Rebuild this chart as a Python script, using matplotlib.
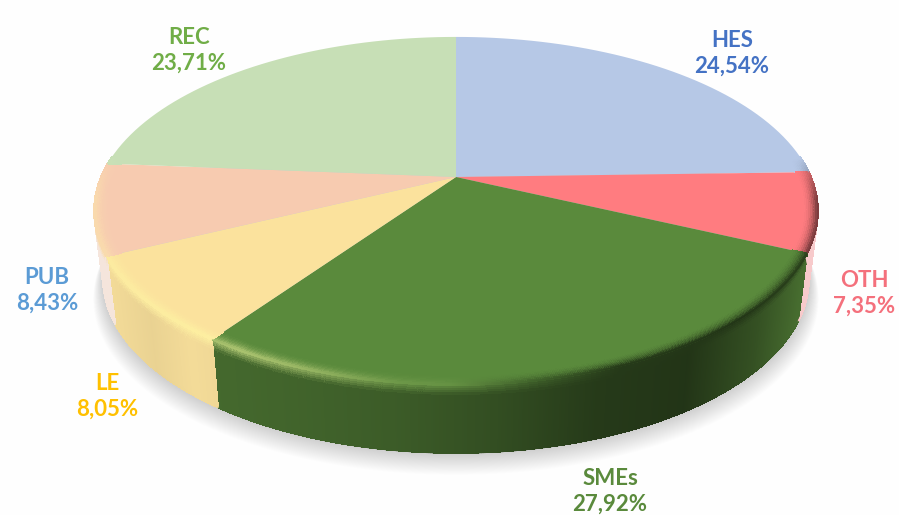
import numpy as np
import matplotlib
matplotlib.use("Agg")
import matplotlib.pyplot as plt
from matplotlib.collections import PolyCollection, LineCollection
from matplotlib.path import Path
from matplotlib.transforms import Transform

categories = ["HES", "OTH", "SMEs", "LE", "PUB", "REC"]
shares = [24.54, 7.35, 27.92, 8.05, 8.43, 23.71]
share_labels = ["24,54%", "7,35%", "27,92%", "8,05%", "8,43%", "23,71%"]
top_colors = ["#B6C8E6", "#FF7C80", "#5A8A3C", "#FBE29D", "#F7CBB0", "#C7DFB6"]
text_colors = ["#4472C4", "#F4707C", "#5A8A3C", "#FFC000", "#5B9BD5", "#70AD47"]
label_xy = [(732, 53), (864, 293), (610, 491), (107, 396), (47, 290), (189, 50)]

CX, CY, A, B, K = 456.0, 177.0, 355.0, 167.4, 0.195
DEPTH, NARROW = 68.0, 0.975


def project(u, v):
    w = 1 + K * v
    return CX + A * u / w, CY - B * v / w


class Perspective(Transform):
    input_dims = output_dims = 2
    is_affine = False

    def transform_non_affine(self, values):
        values = np.asarray(values)
        x, y = project(values[:, 0], values[:, 1])
        return np.column_stack([x, y])

    def transform_path_non_affine(self, path):
        pts = []
        for curve, code in path.iter_bezier():
            if code == Path.LINETO or code == Path.CLOSEPOLY or code == Path.MOVETO:
                pts.append(curve.control_points[-1:])
            else:
                pts.append(curve(np.linspace(0, 1, 25)))
        return Path(self.transform_non_affine(np.vstack(pts)), closed=False)


def rgb(c):
    return np.array(matplotlib.colors.to_rgb(c))


def side_color(name, base, x):
    if name == "SMEs":
        f = np.interp(x, [212, 300, 400, 500, 600, 690, 760, 805],
                      [0.76, 0.72, 0.66, 0.56, 0.42, 0.38, 0.58, 0.78])
        return base * f
    if name == "LE":
        f = np.interp(x, [105, 150, 190, 222], [0.97, 0.93, 0.97, 0.95])
        return np.clip(base * f, 0, 1)
    if name in ("OTH", "PUB"):
        return base * 0.35 + np.array([0.62, 0.62, 0.62])
    return base * 0.9


def rim_color(base, x):
    hl = np.interp(x, [90, 240, 300, 400, 540], [0.3, 0.5, 0.4, 0.12, 0.0])
    dk = np.interp(x, [450, 620, 740, 830], [0.0, 0.58, 0.62, 0.5])
    c = base + (np.array([1.0, 1.0, 0.65]) - base) * hl
    return c * (1 - dk)


fig = plt.figure(figsize=(8.99, 5.15), dpi=100, facecolor="#FEFEFE")
ax = fig.add_axes([0, 0, 1, 1])

wedges, _ = ax.pie(shares, colors=top_colors, startangle=90, counterclock=False,
                   radius=1, wedgeprops={"linewidth": 0})
ax.set_aspect("auto")
ax.set_xlim(0, 899)
ax.set_ylim(515, 0)
ax.axis("off")

perspective = Perspective() + ax.transData
for wedge in wedges:
    wedge.set_transform(perspective)
    wedge.set_zorder(5)

# soft ground shadow
t = np.radians(np.linspace(0, 360, 361))
sx, sy = project(np.cos(t), np.sin(t))
sx = CX + (sx - CX) * NARROW
sy = sy + DEPTH
ymid = sy.mean()
for i in range(24, 0, -1):
    e = i / 24
    ax.fill(CX + (sx - CX) * (1 + 0.028 * e),
            ymid + (sy - ymid) * (1 + 0.01 * e) + 20 * e,
            color="black", alpha=0.0085, lw=0, zorder=1)

# extruded side and bevelled rim, built from the pie's own wedge angles
depth_steps = [0, 0.03, 0.06, 0.09, 0.12, 0.16, 0.3, 1.0]
ring_steps = np.linspace(0.962, 1.0, 9)
side_polys, side_cols, rim_polys, rim_cols = [], [], [], []
edge_segs, edge_cols, lip_segs, lip_cols = [], [], [], []
for wedge, name, col in zip(wedges, categories, top_colors):
    base = rgb(col)
    n = max(int(wedge.theta2 - wedge.theta1) * 4, 2)
    ths = np.radians(np.linspace(wedge.theta1, wedge.theta2, n + 1))
    for a0, a1 in zip(ths[:-1], ths[1:]):
        mid = (a0 + a1) / 2
        if np.sin(mid) > 0.12:
            continue
        x0, y0 = project(np.cos(a0), np.sin(a0))
        x1, y1 = project(np.cos(a1), np.sin(a1))
        xm = (x0 + x1) / 2
        sc = side_color(name, base, xm)
        pk = rim_color(base, xm)
        b0x, b1x = CX + (x0 - CX) * NARROW, CX + (x1 - CX) * NARROW
        last = sc
        for d0, d1 in zip(depth_steps[:-1], depth_steps[1:]):
            q = [(x0 + (b0x - x0) * d0, y0 + DEPTH * d0),
                 (x1 + (b1x - x1) * d0, y1 + DEPTH * d0),
                 (x1 + (b1x - x1) * d1, y1 + DEPTH * d1),
                 (x0 + (b0x - x0) * d1, y0 + DEPTH * d1)]
            m = min((d0 + d1) / 2 / 0.16, 1.0)
            last = pk * (1 - m) + sc * m
            side_polys.append(q)
            side_cols.append(last)
        edge_segs.append([(b0x, y0 + DEPTH), (b1x, y1 + DEPTH)])
        edge_cols.append(last)
        for r0, r1 in zip(ring_steps[:-1], ring_steps[1:]):
            q = [project(r0 * np.cos(a0), r0 * np.sin(a0)),
                 project(r0 * np.cos(a1), r0 * np.sin(a1)),
                 project(r1 * np.cos(a1), r1 * np.sin(a1)),
                 project(r1 * np.cos(a0), r1 * np.sin(a0))]
            s = ((r0 + r1) / 2 - ring_steps[0]) / (ring_steps[-1] - ring_steps[0])
            fade = np.clip((0.12 - np.sin(mid)) / 0.25, 0, 1)
            mix = s ** 2 * fade
            rim_polys.append(q)
            rim_cols.append(base * (1 - mix) + pk * mix)
        lip_segs.append([(x0, y0), (x1, y1)])
        lip_cols.append(base * (1 - fade) + pk * fade)

side = PolyCollection(side_polys, facecolors=side_cols, edgecolors="face",
                      linewidths=0.6, antialiaseds=False, zorder=3)
ax.add_collection(side)
ax.add_collection(LineCollection(edge_segs, colors=edge_cols, linewidths=1.0,
                                 capstyle="round", zorder=4))
rim = PolyCollection(rim_polys, facecolors=rim_cols, edgecolors="face",
                     linewidths=0.6, antialiaseds=False, zorder=6)
ax.add_collection(rim)
ax.add_collection(LineCollection(lip_segs, colors=lip_cols, linewidths=0.8,
                                 capstyle="round", zorder=6))

for name, pct, col, (lx, ly) in zip(categories, share_labels, text_colors, label_xy):
    ax.text(lx, ly, f"{name}\n{pct}", color=col, ha="center", va="center",
            family="Lato", fontweight="bold", fontsize=16, linespacing=1.27, zorder=8)

fig.savefig("out.png", dpi=100, facecolor=fig.get_facecolor())
